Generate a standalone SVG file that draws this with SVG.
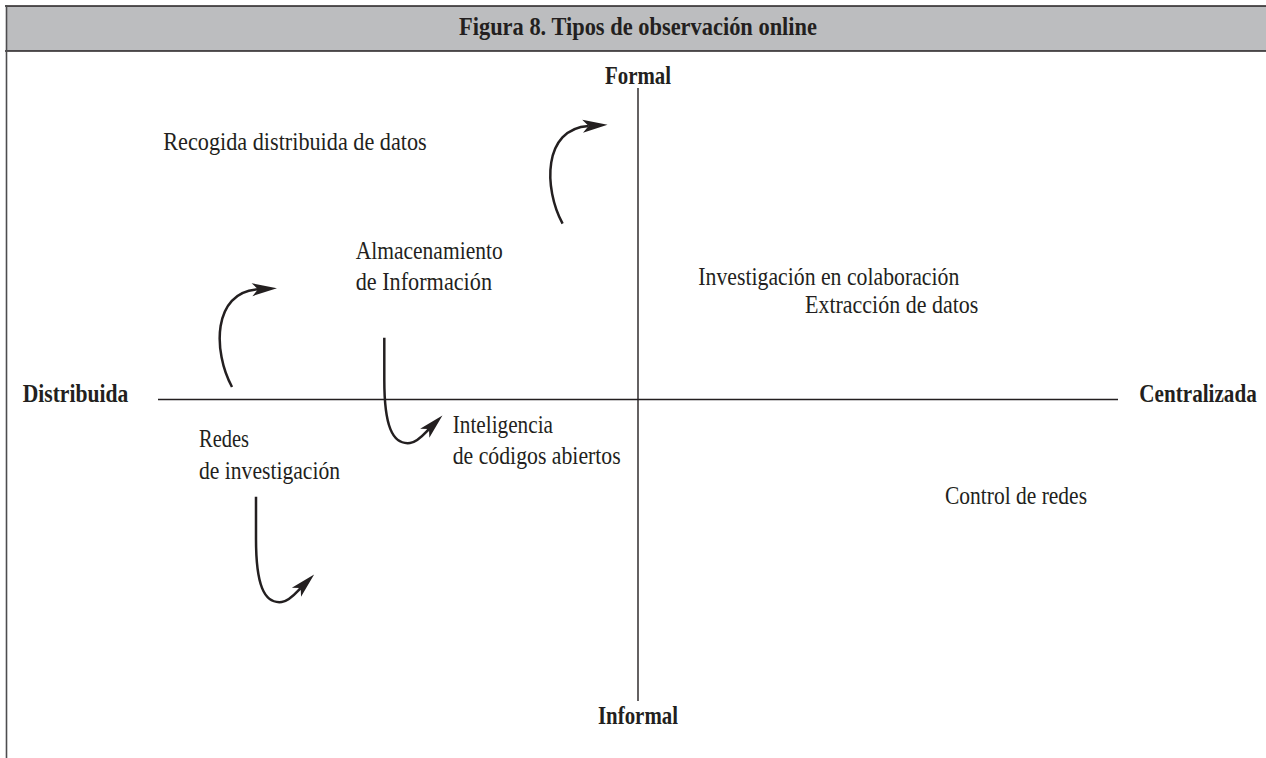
<svg xmlns="http://www.w3.org/2000/svg" width="1266" height="758" viewBox="0 0 1266 758">
  <style>
    text { font-family: "Liberation Serif", "Times New Roman", serif; font-size: 25px; fill: #231f20; }
    .b { font-weight: bold; }
    .axis { stroke: #231f20; stroke-width: 1.4; fill: none; }
    .arr { stroke: #231f20; stroke-width: 2.5; fill: none; marker-end: url(#ah); }
  </style>
  <defs>
    <marker id="ah" markerUnits="userSpaceOnUse" markerWidth="26" markerHeight="14" refX="6" refY="6.5" orient="auto" overflow="visible">
      <path d="M0,0 L25,6.5 L0,13 L6,6.5 Z" fill="#231f20"/>
    </marker>
  </defs>
  <rect width="1266" height="758" fill="#ffffff"/>
  <g id="frame">
    <rect x="6" y="6" width="1262" height="45" fill="#bcbdbf"/>
    <line x1="5" y1="6" x2="1266" y2="6" stroke="#231f20" stroke-width="1.6"/>
    <line x1="5" y1="51" x2="1266" y2="51" stroke="#231f20" stroke-width="1.6"/>
    <line x1="6.5" y1="5" x2="6.5" y2="758" stroke="#4d4d4f" stroke-width="1.6"/>
  </g>
  <g id="title"><text class="b" x="459" y="35" textLength="358" lengthAdjust="spacingAndGlyphs">Figura 8. Tipos de observación online</text></g>
  <g id="axes">
    <line class="axis" x1="638" y1="88" x2="638" y2="701"/>
    <line class="axis" x1="158" y1="399.5" x2="1118" y2="399.5"/>
  </g>
  <g id="formal"><text class="b" x="605" y="84" textLength="66" lengthAdjust="spacingAndGlyphs">Formal</text></g>
  <g id="informal"><text class="b" x="598" y="724" textLength="80" lengthAdjust="spacingAndGlyphs">Informal</text></g>
  <g id="distribuida"><text class="b" x="22.7" y="402" textLength="105.6" lengthAdjust="spacingAndGlyphs">Distribuida</text></g>
  <g id="centralizada"><text class="b" x="0" y="0" transform="translate(1139.3,402) scale(0.84,1)" textLength="139.8" lengthAdjust="spacingAndGlyphs">Centralizada</text></g>
  <g id="recogida"><text x="163.3" y="150" textLength="263.4" lengthAdjust="spacingAndGlyphs">Recogida distribuida de datos</text></g>
  <g id="almacenamiento">
    <text x="355.7" y="259" textLength="147" lengthAdjust="spacingAndGlyphs">Almacenamiento</text>
    <text x="355.7" y="290" textLength="136.3" lengthAdjust="spacingAndGlyphs">de Información</text>
  </g>
  <g id="investigacion-colaboracion"><text x="698.3" y="285" textLength="261" lengthAdjust="spacingAndGlyphs">Investigación en colaboración</text></g>
  <g id="extraccion"><text x="805" y="313" textLength="173.3" lengthAdjust="spacingAndGlyphs">Extracción de datos</text></g>
  <g id="inteligencia">
    <text x="452.7" y="432.7" textLength="100.3" lengthAdjust="spacingAndGlyphs">Inteligencia</text>
    <text x="452.7" y="464" textLength="168" lengthAdjust="spacingAndGlyphs">de códigos abiertos</text>
  </g>
  <g id="redes">
    <text x="199" y="447" textLength="50" lengthAdjust="spacingAndGlyphs">Redes</text>
    <text x="199" y="479.3" textLength="141" lengthAdjust="spacingAndGlyphs">de investigación</text>
  </g>
  <g id="control"><text x="945" y="504" textLength="142" lengthAdjust="spacingAndGlyphs">Control de redes</text></g>
  <g id="connectors">
    <path class="arr" d="M232,387 C213,352 212,292 258,289.3"/>
    <path class="arr" transform="translate(330.6,-163.4)" d="M232,387 C213,352 212,292 258,289.3"/>
    <path class="arr" d="M384.3,337.7 L384.3,380 C384.3,425 392,445 410,443 C418,442 424,434 429,429"/>
    <path class="arr" transform="translate(-128.3,159)" d="M384.3,337.7 L384.3,380 C384.3,425 392,445 410,443 C418,442 424,434 429,429"/>
  </g>
</svg>
